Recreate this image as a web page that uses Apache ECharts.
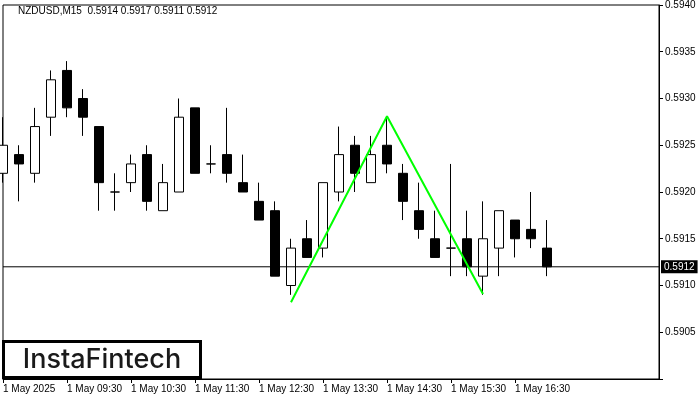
<!DOCTYPE html>
<html>
<head>
<meta charset="utf-8">
<script src="https://cdn.jsdelivr.net/npm/echarts@6/dist/echarts.min.js"></script>
<style>
html,body{margin:0;padding:0;background:#fff;}
#chart{width:700px;height:400px;}
</style>
</head>
<body>
<div id="chart"></div>
<script>
// 15-minute bars, 1 May 2025, 08:30 .. 17:00
var times = ['08:30','08:45','09:00','09:15','09:30','09:45','10:00','10:15','10:30','10:45','11:00','11:15',
  '11:30','11:45','12:00','12:15','12:30','12:45','13:00','13:15','13:30','13:45','14:00','14:15',
  '14:30','14:45','15:00','15:15','15:30','15:45','16:00','16:15','16:30','16:45','17:00'];
var opens  = [0.5922,0.5924,0.5922,0.5928,0.5933,0.5930,0.5927,0.5920,0.5921,0.5924,0.5918,0.5920,
  0.5929,0.5923,0.5924,0.5921,0.5919,0.5918,0.5910,0.5915,0.5914,0.5920,0.5925,0.5921,
  0.5925,0.5922,0.5918,0.5915,0.5914,0.5915,0.5911,0.5914,0.5917,0.5916,0.5914];
var closes = [0.5925,0.5923,0.5927,0.5932,0.5929,0.5928,0.5921,0.5920,0.5923,0.5919,0.5921,0.5928,
  0.5922,0.5923,0.5922,0.5920,0.5917,0.5911,0.5914,0.5913,0.5921,0.5924,0.5922,0.5924,
  0.5923,0.5919,0.5916,0.5913,0.5914,0.5912,0.5915,0.5918,0.5915,0.5915,0.5912];
var lows   = [0.5921,0.5919,0.5921,0.5926,0.5928,0.5926,0.5918,0.5918,0.5920,0.5918,0.5918,0.5920,
  0.5922,0.5922,0.5921,0.5920,0.5917,0.5911,0.5909,0.5913,0.5913,0.5919,0.5920,0.5921,
  0.5922,0.5917,0.5915,0.5913,0.5911,0.5911,0.5909,0.5911,0.5913,0.5914,0.5911];
var highs  = [0.5928,0.5925,0.5929,0.5933,0.5934,0.5931,0.5927,0.5922,0.5924,0.5925,0.5923,0.5930,
  0.5929,0.5925,0.5929,0.5924,0.5921,0.5919,0.5915,0.5917,0.5921,0.5927,0.5926,0.5926,
  0.5928,0.5923,0.5921,0.5918,0.5923,0.5918,0.5919,0.5918,0.5917,0.5920,0.5917];
// double top pattern line: [bar index, price]
var patternPoints = [[18, 0.59082], [24, 0.59281], [30, 0.59091]];
var lastPrice = 0.5912;
var headerText = 'NZDUSD,M15  0.5914 0.5917 0.5911 0.5912';
var yMin = 0.5900, yMax = 0.5940, yStep = 0.0005;
var padBars = 7; // empty slots to the right of the last bar

var categories = times.slice();
for (var i = 0; i < padBars; i++) categories.push('');
var ohlc = times.map(function (t, i) { return [opens[i], closes[i], lows[i], highs[i]]; });
var lastIdx = categories.length - 1;
var priceLine = [[0, lastPrice], [lastIdx, lastPrice]];

function xLabel(v, idx) {
  return idx === 0 ? '1 May 2025' : '1 May ' + v;
}
function showTick(idx) { return idx % 4 === 0 && idx <= 32; }

var font = '"Liberation Sans", Arial, sans-serif';
var chart = echarts.init(document.getElementById('chart'), null, {renderer: 'canvas'});
chart.setOption({
  animation: false,
  backgroundColor: '#fff',
  grid: {left: 3, right: 41, top: 4, bottom: 21, show: true, borderColor: '#000', borderWidth: 1, backgroundColor: 'transparent'},
  xAxis: {
    type: 'category', data: categories, boundaryGap: false,
    axisLine: {show: true, lineStyle: {color: '#000', width: 1}},
    axisTick: {show: true, inside: false, length: 4, interval: function (idx) { return showTick(idx); }, lineStyle: {color: '#000'}},
    axisLabel: {show: true, interval: function (idx) { return showTick(idx); }, formatter: xLabel, align: 'left',
      color: '#000', fontFamily: font, fontSize: 10, margin: 5},
    splitLine: {show: false}
  },
  yAxis: {
    type: 'value', position: 'right', min: yMin, max: yMax, interval: yStep,
    axisLine: {show: true, lineStyle: {color: '#000', width: 1}},
    axisTick: {show: true, length: 4, lineStyle: {color: '#000'}},
    axisLabel: {show: true, color: '#000', fontFamily: font, fontSize: 10, margin: 6,
      formatter: function (v) { return Math.abs(v - yMin) < 1e-9 ? '' : v.toFixed(4); }},
    splitLine: {show: false}
  },
  series: [
    {
      type: 'candlestick', data: ohlc, barWidth: 10, clip: true,
      itemStyle: {color: '#fff', color0: '#000', borderColor: '#000', borderColor0: '#000', borderColorDoji: '#000', borderWidth: 1},
      z: 2
    },
    {
      type: 'line', data: priceLine, symbol: 'none', z: 4, silent: true,
      lineStyle: {color: '#000', width: 1},
      endLabel: {show: true, distance: 2, formatter: lastPrice.toFixed(4), color: '#fff', backgroundColor: '#000',
        padding: [2, 3, 1, 3], fontFamily: font, fontSize: 10}
    },
    {
      type: 'line', data: patternPoints, symbol: 'none', z: 5,
      lineStyle: {color: '#00ff00', width: 2}
    }
  ],
  graphic: [
    {type: 'text', left: 18, top: 6, z: 10, style: {text: headerText, fill: '#000', font: '10px ' + font}},
    {type: 'rect', shape: {x: 3.5, y: 341.5, width: 197, height: 36}, z: 10,
      style: {fill: '#fff', stroke: '#000', lineWidth: 3}},
    {type: 'text', x: 102, y: 360, z: 11, style: {text: 'InstaFintech', fill: '#1a1a1a', align: 'center', verticalAlign: 'middle',
      font: '500 27px Inter, "Open Sans", sans-serif'}}
  ]
});
</script>
</body>
</html>
